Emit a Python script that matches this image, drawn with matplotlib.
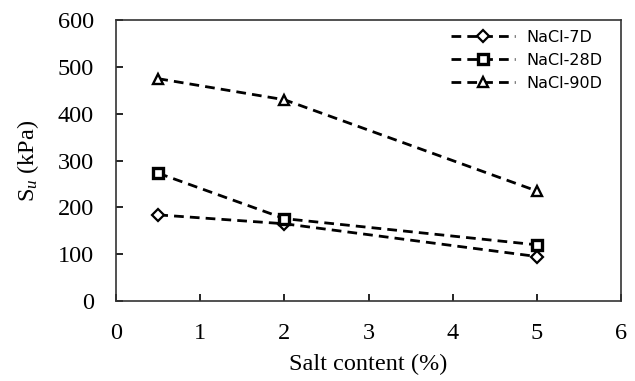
import matplotlib.pyplot as plt

salt = [0.5, 2, 5]
nacl_7d = [184, 165, 95]
nacl_28d = [273, 176, 120]
nacl_90d = [475, 430, 235]

plt.rcParams['font.family'] = ['Liberation Serif', 'DejaVu Serif']
plt.rcParams['mathtext.fontset'] = 'custom'
plt.rcParams['mathtext.rm'] = 'Liberation Serif'
plt.rcParams['mathtext.it'] = 'Liberation Serif:italic'

fig = plt.figure(figsize=(6.35, 3.81), dpi=100)
ax = fig.add_axes([0.183, 0.21, 0.795, 0.737])

dash = (3.5, 2.2)
ax.plot(salt, nacl_7d, color='black', lw=2, dashes=dash, marker='D', ms=6,
        mfc='white', mec='black', mew=1.6, label='NaCl-7D')
ax.plot(salt, nacl_28d, color='black', lw=2, dashes=dash, marker='s', ms=7,
        mfc='white', mec='black', mew=2.4, label='NaCl-28D')
ax.plot(salt, nacl_90d, color='black', lw=2, dashes=dash, marker='^', ms=7.5,
        mfc='white', mec='black', mew=1.7, label='NaCl-90D')

ax.set_xlim(0, 6)
ax.set_ylim(0, 600)
ax.set_xticks(range(0, 7))
ax.set_yticks(range(0, 601, 100))
ax.tick_params(direction='in', labelsize=17.5, length=5, width=1.2, pad=16)

ax.set_xlabel('Salt content (%)', fontsize=17.5, labelpad=7)
ax.set_ylabel('S$_u$ (kPa)', fontsize=17.5, labelpad=12)

for s in ax.spines.values():
    s.set_linewidth(1.2)
    s.set_color('#333333')

# legend placed a bit in from the right, close to the top
leg = ax.legend(loc='upper right', bbox_to_anchor=(0.985, 1.005), frameon=False,
                handlelength=4.0, prop={'family': 'DejaVu Sans', 'size': 11.5},
                labelspacing=0.5, borderaxespad=0.3, handletextpad=0.7)

plt.savefig('out.png', dpi=100)
